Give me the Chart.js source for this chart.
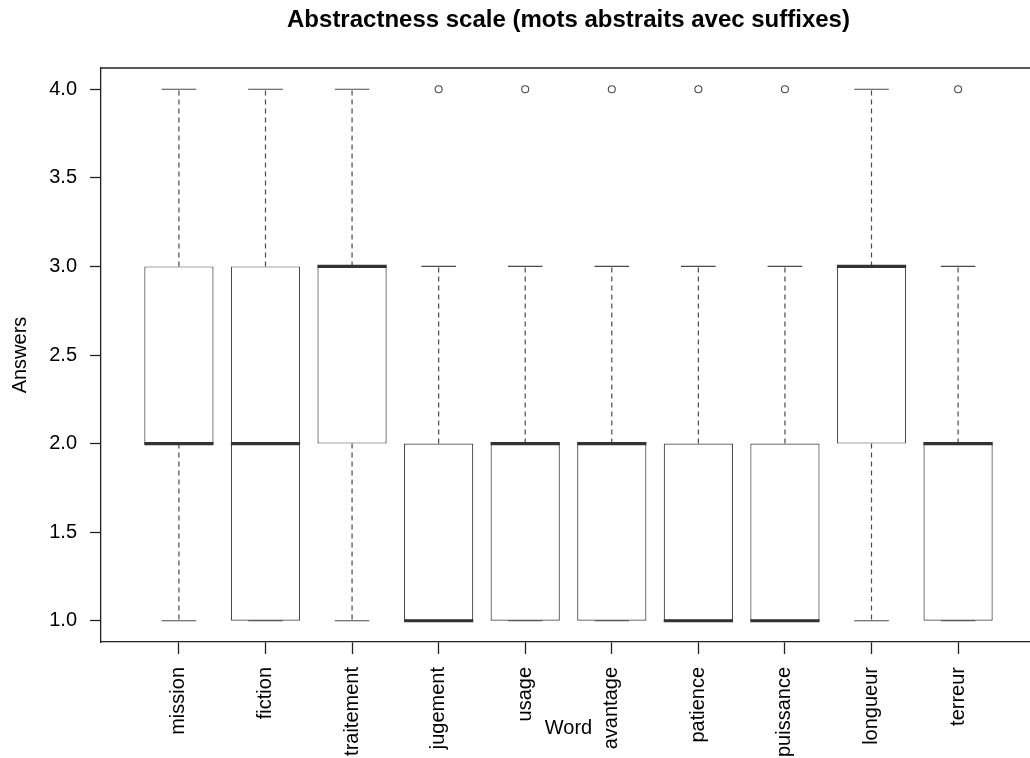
<!DOCTYPE html>
<html>
<head>
<meta charset="utf-8">
<script src="https://cdn.jsdelivr.net/npm/chart.js@4/dist/chart.umd.min.js"></script>
<style>
  html, body { margin: 0; padding: 0; background: #fff; overflow: hidden; }
  #wrap { width: 1060px; height: 758px; }
</style>
</head>
<body>
<div id="wrap"><canvas id="chart"></canvas></div>
<script>
// données
const words = ['mission', 'fiction', 'traitement', 'jugement', 'usage', 'avantage', 'patience', 'puissance', 'longueur', 'terreur'];
const whiskerLow  = [1, 1, 1, 1, 1, 1, 1, 1, 1, 1];
const q1          = [2, 1, 2, 1, 1, 1, 1, 1, 2, 1];
const medians     = [2, 2, 3, 1, 2, 2, 1, 1, 3, 2];
const q3          = [3, 3, 3, 2, 2, 2, 2, 2, 3, 2];
const whiskerHigh = [4, 4, 4, 3, 3, 3, 3, 3, 4, 3];
const outliers    = [null, null, null, 4, 4, 4, 4, 4, null, 4];
const yTicks = [1.0, 1.5, 2.0, 2.5, 3.0, 3.5, 4.0];

const LINE = '#4a4a4a';
const AXIS = '#222';
const FONT = 'Liberation Sans, Arial, sans-serif';

// moustaches, extrémités et médianes (dessinées avec les échelles de Chart.js)
const boxExtras = {
    id: 'boxExtras',
    afterDatasetsDraw(chart) {
        const { ctx, scales: { x, y }, chartArea } = chart;
        ctx.save();
        words.forEach((w, i) => {
            const cx = x.getPixelForValue(i + 1);
            const capL = x.getPixelForValue(i + 1 - 0.2);
            const capR = x.getPixelForValue(i + 1 + 0.2);
            const boxL = x.getPixelForValue(i + 1 - 0.4);
            const boxR = x.getPixelForValue(i + 1 + 0.4);

            // moustaches en pointillés
            ctx.strokeStyle = LINE;
            ctx.lineWidth = 1.2;
            ctx.setLineDash([5, 4]);
            ctx.beginPath();
            if (whiskerHigh[i] > q3[i]) {
                ctx.moveTo(cx, y.getPixelForValue(q3[i]));
                ctx.lineTo(cx, y.getPixelForValue(whiskerHigh[i]));
            }
            if (whiskerLow[i] < q1[i]) {
                ctx.moveTo(cx, y.getPixelForValue(q1[i]));
                ctx.lineTo(cx, y.getPixelForValue(whiskerLow[i]));
            }
            ctx.stroke();

            // extrémités
            ctx.setLineDash([]);
            ctx.beginPath();
            [whiskerHigh[i], whiskerLow[i]].forEach(v => {
                const py = y.getPixelForValue(v);
                ctx.moveTo(capL, py);
                ctx.lineTo(capR, py);
            });
            ctx.stroke();

            // médiane
            ctx.strokeStyle = '#333';
            ctx.lineWidth = 3.2;
            ctx.beginPath();
            const my = y.getPixelForValue(medians[i]);
            ctx.moveTo(boxL, my);
            ctx.lineTo(boxR, my);
            ctx.stroke();
        });

        // cadre (haut et droite)
        ctx.strokeStyle = AXIS;
        ctx.lineWidth = 1.3;
        ctx.beginPath();
        ctx.moveTo(chartArea.left, chartArea.top);
        ctx.lineTo(chartArea.right, chartArea.top);
        ctx.lineTo(chartArea.right, chartArea.bottom);
        ctx.stroke();
        ctx.restore();
    }
};

const boxData = words.map((w, i) => ({ x: i + 1, y: [q1[i], q3[i]] }));
const outlierData = outliers
    .map((v, i) => (v === null ? null : { x: i + 1, y: v }))
    .filter(p => p !== null);

new Chart(document.getElementById('chart'), {
    type: 'bar',
    data: {
        datasets: [
            {
                label: 'box',
                data: boxData,
                backgroundColor: '#fff',
                borderColor: LINE,
                borderWidth: 1.2,
                borderSkipped: false,
                categoryPercentage: 1,
                barPercentage: 0.8
            },
            {
                type: 'scatter',
                label: 'outliers',
                data: outlierData,
                pointRadius: 3.5,
                pointBorderWidth: 1.1,
                pointBorderColor: LINE,
                pointBackgroundColor: '#fff'
            }
        ]
    },
    options: {
        responsive: true,
        maintainAspectRatio: false,
        animation: false,
        layout: { padding: { left: 0, right: 24, top: 0, bottom: 0 } },
        plugins: {
            legend: { display: false },
            tooltip: { enabled: false },
            title: {
                display: true,
                fullSize: false,
                text: 'Abstractness scale (mots abstraits avec suffixes)',
                color: '#000',
                font: { family: FONT, size: 24, weight: 'bold' },
                padding: { top: 5.5, bottom: 33.7 }
            }
        },
        scales: {
            x: {
                type: 'linear',
                min: 0.1,
                max: 10.9,
                offset: false,
                afterBuildTicks: axis => {
                    axis.ticks = words.map((w, i) => ({ value: i + 1 }));
                },
                afterFit: axis => { axis.height = 116; },
                grid: { drawOnChartArea: false, offset: false, tickLength: 12, tickColor: AXIS, tickWidth: 1.3 },
                border: { color: AXIS, width: 1.3 },
                ticks: {
                    autoSkip: false,
                    minRotation: 90,
                    maxRotation: 90,
                    padding: 13,
                    color: '#000',
                    font: { family: FONT, size: 20 },
                    callback: value => words[value - 1]
                },
                title: {
                    display: true,
                    text: 'Word',
                    color: '#000',
                    font: { family: FONT, size: 20 },
                    padding: { top: 0, bottom: 18 }
                }
            },
            y: {
                min: 0.88,
                max: 4.12,
                afterBuildTicks: axis => {
                    axis.ticks = yTicks.map(v => ({ value: v }));
                },
                afterFit: axis => { axis.width = 101; },
                grid: { drawOnChartArea: false, tickLength: 11, tickColor: AXIS, tickWidth: 1.3 },
                border: { color: AXIS, width: 1.3 },
                ticks: {
                    padding: 13,
                    color: '#000',
                    font: { family: FONT, size: 20 },
                    callback: value => value.toFixed(1)
                },
                title: {
                    display: true,
                    text: 'Answers',
                    color: '#000',
                    font: { family: FONT, size: 20 },
                    padding: { top: 8, bottom: 0 }
                }
            }
        }
    },
    plugins: [boxExtras]
});
</script>
</body>
</html>
